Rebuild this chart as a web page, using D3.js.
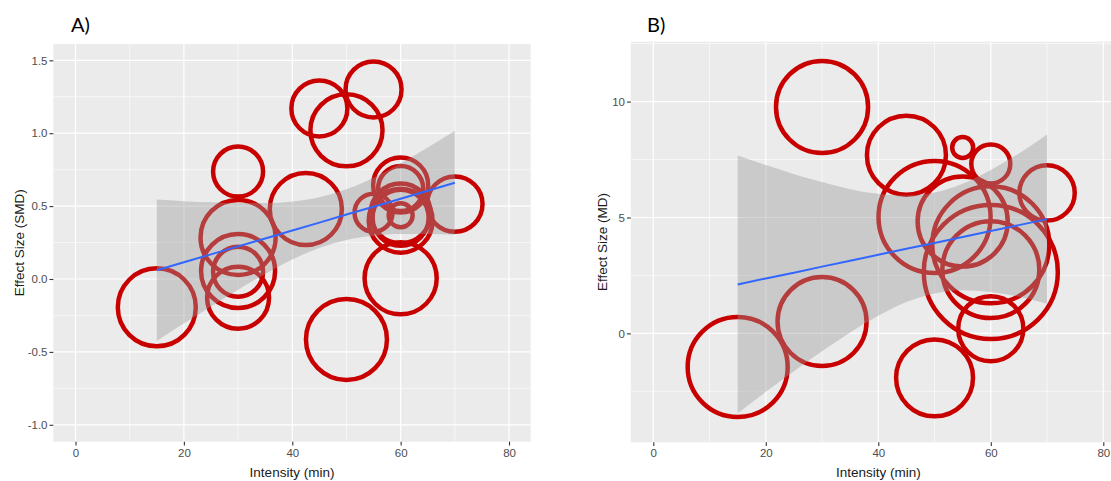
<!DOCTYPE html>
<html>
<head>
<meta charset="utf-8">
<script src="https://cdn.jsdelivr.net/npm/d3@7"></script>
<style>
  html, body { margin: 0; padding: 0; background: #ffffff; }
  svg { display: block; }
</style>
</head>
<body>
<svg id="chart" width="1111" height="481"></svg>
<script>
// ---------------- DATA ----------------
const xTickValues = [0, 20, 40, 60, 80];
const xTickLabels = ["0", "20", "40", "60", "80"];
const xMinorValues = [10, 30, 50, 70];

// Panel A (SMD)
const aYTickValues = [-1, -0.5, 0, 0.5, 1, 1.5];
const aYTickLabels = ["-1.0", "-0.5", "0.0", "0.5", "1.0", "1.5"];
const aYMinorValues = [-0.75, -0.25, 0.25, 0.75, 1.25];
const aIntensity = [15, 30, 30, 30, 30, 30, 42.5, 45, 50, 55, 50, 55, 60, 60, 60, 60, 60, 60, 60, 70];
const aSMD = [-0.194, 0.737, 0.285, 0.055, 0.05, -0.128, 0.48, 1.17, 1.02, 1.30, -0.415, 0.455, 0.645, 0.62, 0.45, 0.42, 0.40, 0.437, 0.005, 0.514];
const aWeight = [15.2, 6.25, 14.1, 13.7, 6.25, 9.6, 13.0, 7.84, 13.0, 7.84, 16.4, 3.61, 7.56, 5.06, 9.0, 7.84, 10.2, 1.44, 13.0, 7.67];
const aSmoothX = [15, 20, 25, 30, 35, 40, 45, 50, 55, 60, 65, 70];
const aFit = [0.06, 0.115, 0.169, 0.224, 0.278, 0.333, 0.387, 0.442, 0.496, 0.551, 0.605, 0.66];
const aUpper = [0.545, 0.534, 0.526, 0.521, 0.521, 0.532, 0.561, 0.616, 0.695, 0.794, 0.902, 1.017];
const aLower = [-0.425, -0.304, -0.188, -0.073, 0.035, 0.134, 0.213, 0.268, 0.297, 0.308, 0.308, 0.303];

// Panel B (MD)
const bYTickValues = [0, 5, 10];
const bYTickLabels = ["0", "5", "10"];
const bYMinorValues = [-2.5, 2.5, 7.5, 12.5];
const bIntensity = [15, 30, 30, 45, 55, 60, 70, 50, 50, 55, 60, 60, 60, 60];
const bMD = [-1.45, 0.51, 9.77, 7.69, 8.02, 7.31, 6.06, -1.92, 5.02, 4.83, 3.82, 2.65, 2.75, 0.2];
const bWeight = [25, 19.8, 21.2, 15.6, 1.1, 3.8, 7.67, 14.8, 31.4, 20.3, 34.2, 44.9, 23.5, 10.6];
const bSmoothX = [15, 20, 25, 30, 35, 40, 45, 50, 55, 60, 65, 70];
const bFit = [2.11, 2.37, 2.62, 2.88, 3.13, 3.39, 3.65, 3.90, 4.16, 4.42, 4.67, 4.93];
const bUpper = [7.67, 7.26, 6.87, 6.53, 6.22, 6.02, 5.95, 6.08, 6.46, 7.05, 7.76, 8.58];
const bLower = [-3.45, -2.52, -1.63, -0.77, 0.04, 0.76, 1.35, 1.72, 1.86, 1.79, 1.58, 1.28];

// ---------------- DRAW ----------------
const svg = d3.select("#chart");
const rScale = d3.scaleSqrt().domain([0, 1]).range([0, 10]);

function drawPanel(cfg) {
  const x = d3.scaleLinear().domain(cfg.xDomain).range(cfg.xRange);
  const y = d3.scaleLinear().domain(cfg.yDomain).range(cfg.yRange);
  const g = svg.append("g");
  const [x0, x1] = cfg.xRange;
  const [yb, yt] = cfg.yRange;

  const clipId = "clip-" + cfg.id;
  svg.append("defs").append("clipPath").attr("id", clipId)
    .append("rect").attr("x", x0).attr("y", yt).attr("width", x1 - x0).attr("height", yb - yt);

  g.append("rect").attr("x", x0).attr("y", yt).attr("width", x1 - x0).attr("height", yb - yt)
    .attr("fill", "#EBEBEB");

  const grid = g.append("g").attr("clip-path", `url(#${clipId})`);
  grid.selectAll(".xminor").data(xMinorValues).enter().append("line")
    .attr("x1", d => x(d)).attr("x2", d => x(d)).attr("y1", yt).attr("y2", yb)
    .attr("stroke", "#fff").attr("stroke-width", 0.6);
  grid.selectAll(".yminor").data(cfg.yMinor).enter().append("line")
    .attr("y1", d => y(d)).attr("y2", d => y(d)).attr("x1", x0).attr("x2", x1)
    .attr("stroke", "#fff").attr("stroke-width", 0.6);
  grid.selectAll(".xmajor").data(xTickValues).enter().append("line")
    .attr("x1", d => x(d)).attr("x2", d => x(d)).attr("y1", yt).attr("y2", yb)
    .attr("stroke", "#fff").attr("stroke-width", 1.2);
  grid.selectAll(".ymajor").data(cfg.yTicks).enter().append("line")
    .attr("y1", d => y(d)).attr("y2", d => y(d)).attr("x1", x0).attr("x2", x1)
    .attr("stroke", "#fff").attr("stroke-width", 1.2);

  const plot = g.append("g").attr("clip-path", `url(#${clipId})`);
  const pts = cfg.px.map((v, i) => ({ x: v, y: cfg.py[i], w: cfg.pw[i] }));
  plot.selectAll("circle").data(pts).enter().append("circle")
    .attr("cx", d => x(d.x)).attr("cy", d => y(d.y)).attr("r", d => rScale(d.w))
    .attr("fill", "none").attr("stroke", "#C80000").attr("stroke-width", 4.5);

  const band = cfg.sx.map((v, i) => ({ x: v, lo: cfg.lo[i], hi: cfg.hi[i], f: cfg.fit[i] }));
  plot.append("path").datum(band)
    .attr("d", d3.area().x(d => x(d.x)).y0(d => y(d.lo)).y1(d => y(d.hi)).curve(d3.curveMonotoneX))
    .attr("fill", "#999999").attr("fill-opacity", 0.4);
  plot.append("path").datum(band)
    .attr("d", d3.line().x(d => x(d.x)).y(d => y(d.f)))
    .attr("fill", "none").attr("stroke", "#3366FF").attr("stroke-width", 2);

  // axes
  const xAxis = d3.axisBottom(x).tickValues(xTickValues)
    .tickFormat((d, i) => xTickLabels[i]).tickSize(3.8).tickPadding(3);
  const gx = g.append("g").attr("transform", `translate(0,${yb})`).call(xAxis);
  gx.select(".domain").remove();
  gx.selectAll("line").attr("stroke", "#333333").attr("stroke-width", 1.1);
  gx.selectAll("text").attr("fill", "#4D4D4D").attr("font-family", "Liberation Sans, Arial, sans-serif")
    .attr("font-size", "11.5px");

  const yAxis = d3.axisLeft(y).tickValues(cfg.yTicks)
    .tickFormat((d, i) => cfg.yLabels[i]).tickSize(3.8).tickPadding(2);
  const gy = g.append("g").attr("transform", `translate(${x0},0)`).call(yAxis);
  gy.select(".domain").remove();
  gy.selectAll("line").attr("stroke", "#333333").attr("stroke-width", 1.1);
  gy.selectAll("text").attr("fill", "#4D4D4D").attr("font-family", "Liberation Sans, Arial, sans-serif")
    .attr("font-size", "11.5px");

  // titles
  g.append("text").attr("x", (cfg.xRange[0] + cfg.xRange[1]) / 2).attr("y", 477)
    .attr("text-anchor", "middle").attr("fill", "#1a1a1a")
    .attr("font-family", "Liberation Sans, Arial, sans-serif").attr("font-size", "13.5px")
    .text("Intensity (min)");
  g.append("text")
    .attr("transform", `translate(${cfg.yTitleX},${(yt + yb) / 2}) rotate(-90)`)
    .attr("text-anchor", "middle").attr("fill", "#1a1a1a")
    .attr("font-family", "Liberation Sans, Arial, sans-serif").attr("font-size", "13.5px")
    .text(cfg.yTitle);
  g.append("text").attr("x", cfg.tagX).attr("y", 32)
    .attr("fill", "#000").attr("font-family", "Lato, 'Open Sans', sans-serif").attr("font-size", "20px")
    .text(cfg.tag);
}

drawPanel({
  id: "a", tag: "A)", tagX: 71, yTitle: "Effect Size (SMD)", yTitleX: 24,
  xDomain: [-4.1, 84], xRange: [53.3, 530.7],
  yDomain: [-1.116, 1.612], yRange: [441.7, 44],
  yTicks: aYTickValues, yLabels: aYTickLabels, yMinor: aYMinorValues,
  px: aIntensity, py: aSMD, pw: aWeight,
  sx: aSmoothX, fit: aFit, hi: aUpper, lo: aLower
});

drawPanel({
  id: "b", tag: "B)", tagX: 647, yTitle: "Effect Size (MD)", yTitleX: 607,
  xDomain: [-4, 84], xRange: [630.8, 1125.8],
  yDomain: [-4.70, 12.585], yRange: [442.3, 41.7],
  yTicks: bYTickValues, yLabels: bYTickLabels, yMinor: bYMinorValues,
  px: bIntensity, py: bMD, pw: bWeight,
  sx: bSmoothX, fit: bFit, hi: bUpper, lo: bLower
});
</script>
</body>
</html>
